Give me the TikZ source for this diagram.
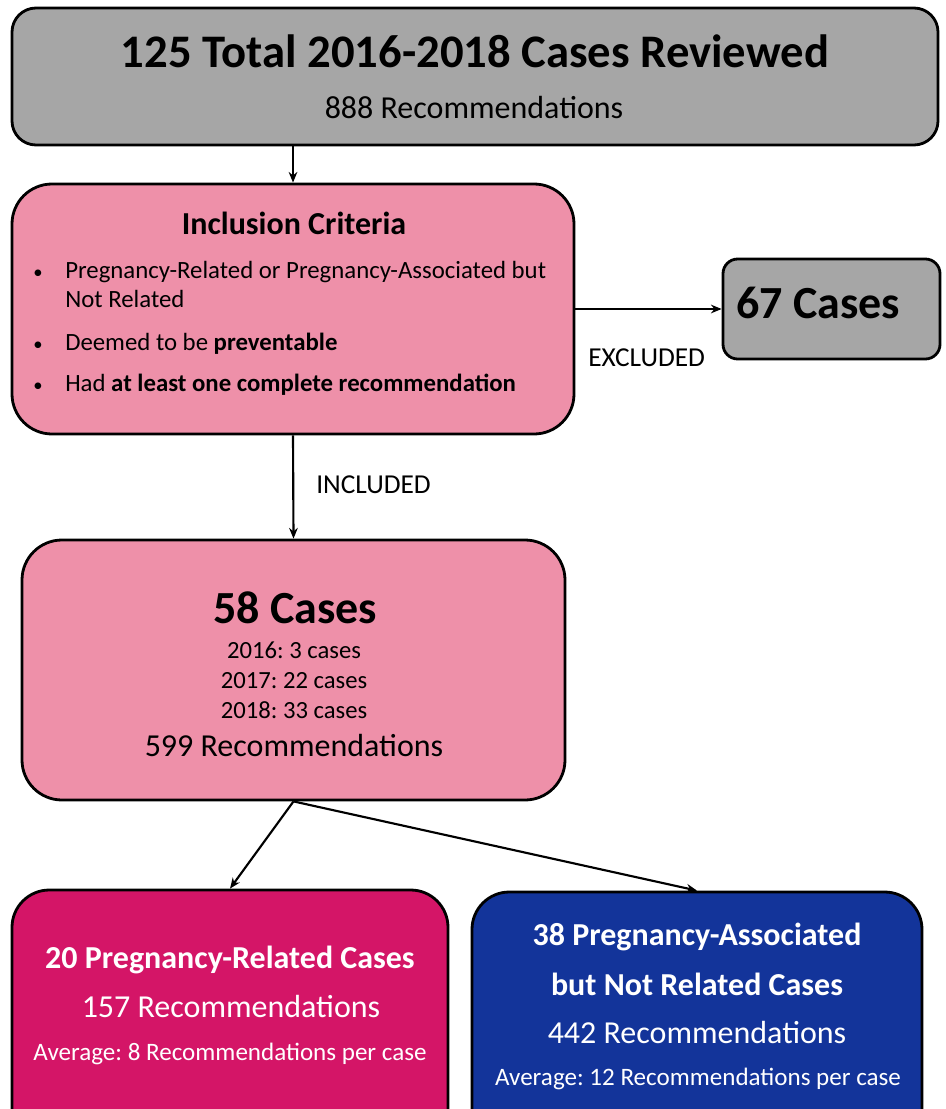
\documentclass[tikz,border=0pt]{standalone}
\usepackage{fontspec}
\setmainfont{Carlito}
\usetikzlibrary{arrows.meta,fit}
\definecolor{boxgray}{HTML}{A6A6A6}
\definecolor{boxpink}{HTML}{EE90A9}
\definecolor{boxmag}{HTML}{D41567}
\definecolor{boxblue}{HTML}{13349A}
\tikzset{
  boxnode/.style={draw=black, line width=2.1pt, inner sep=0pt},
  txt/.style={inner sep=0pt, anchor=base},
  txtl/.style={inner sep=0pt, anchor=base west},
  conn/.style={line width=1.6pt, -{Stealth[length=8pt,width=6.5pt]}},
  fs/.style={font=\fontsize{#1}{#1}\selectfont},
  fsb/.style={font=\fontsize{#1}{#1}\selectfont\bfseries},
}
\frenchspacing
\begin{document}
\frenchspacing
\begin{tikzpicture}[x=0.75pt,y=-0.75pt]
\useasboundingbox (0,0) rectangle (945,1109);
\clip (0,0) rectangle (945,1109);
% boxes
\node[boxnode, fill=boxgray, rounded corners=18pt, fit={(12,8) (938,145)}] (top) {};
\node[boxnode, fill=boxpink, rounded corners=30pt, fit={(12,184) (574,434)}] (incl) {};
\node[boxnode, fill=boxgray, rounded corners=11pt, fit={(723,259) (940,359)}] (excl) {};
\node[boxnode, fill=boxpink, rounded corners=30pt, fit={(22,540) (565,800)}] (inc) {};
\node[boxnode, fill=boxmag, rounded corners=28pt, fit={(12,890) (448,1150)}] (rel) {};
\node[boxnode, fill=boxblue, rounded corners=28pt, fit={(472,892) (922,1150)}] (assoc) {};
% texts
\node[txt, fsb=35pt] (t1) at (475,68) {125 Total 2016-2018 Cases Reviewed};
\node[txt, fs=24pt] (t2) at (474,119) {888 Recommendations};
\node[txt, fsb=24pt] (i0) at (294,234) {Inclusion Criteria};
\node[txt, fs=14pt] (b1) at (38,278) {•};
\node[txtl, fs=18.6pt] (i1) at (65,278) {Pregnancy-Related or Pregnancy-Associated but};
\node[txtl, fs=18.6pt] (i1b) at (65,307) {Not Related};
\node[txt, fs=14pt] (b2) at (38,350) {•};
\node[txtl, fs=18.6pt] (i2) at (65,350) {Deemed to be \textbf{preventable}};
\node[txt, fs=14pt] (b3) at (38,391) {•};
\node[txtl, fs=18.6pt] (i3) at (65,391) {Had \textbf{at least one complete recommendation}};
\node[txtl, fsb=34.5pt] (e1) at (736,318) {67 Cases};
\node[txtl, fs=20.5pt] (lx) at (588,366) {EXCLUDED};
\node[txtl, fs=20.5pt] (li) at (316,493) {INCLUDED};
\node[txt, fsb=34.5pt] (c1) at (295,623) {58 Cases};
\node[txt, fs=18.5pt] (c2) at (294,658) {2016: 3 cases};
\node[txt, fs=18.5pt] (c3) at (294,688) {2017: 22 cases};
\node[txt, fs=18.5pt] (c4) at (294,718) {2018: 33 cases};
\node[txt, fs=24pt] (c5) at (294,756) {599 Recommendations};
\node[txt, fsb=24pt, text=white] (r1) at (230,968) {20 Pregnancy-Related Cases};
\node[txt, fs=24pt, text=white] (r2) at (231,1017) {157 Recommendations};
\node[txt, fs=18.8pt, text=white] (r3) at (230,1060) {Average: 8 Recommendations per case};
\node[txt, fsb=24pt, text=white] (a1) at (697,945) {38 Pregnancy-Associated};
\node[txt, fsb=24pt, text=white] (a2) at (697,995) {but Not Related Cases};
\node[txt, fs=24pt, text=white] (a3) at (697,1043) {442 Recommendations};
\node[txt, fs=18.8pt, text=white] (a4) at (698,1085) {Average: 12 Recommendations per case};
% connectors
\draw[conn] (incl.north |- top.south) -- (incl.north);
\draw[conn] (incl.east) -- (excl.west);
\draw[conn] (incl.south) -- (inc.north);
\draw[conn] (inc.south) -- (rel.north);
\draw[conn] (inc.south) -- (assoc.north);
\end{tikzpicture}
\end{document}
